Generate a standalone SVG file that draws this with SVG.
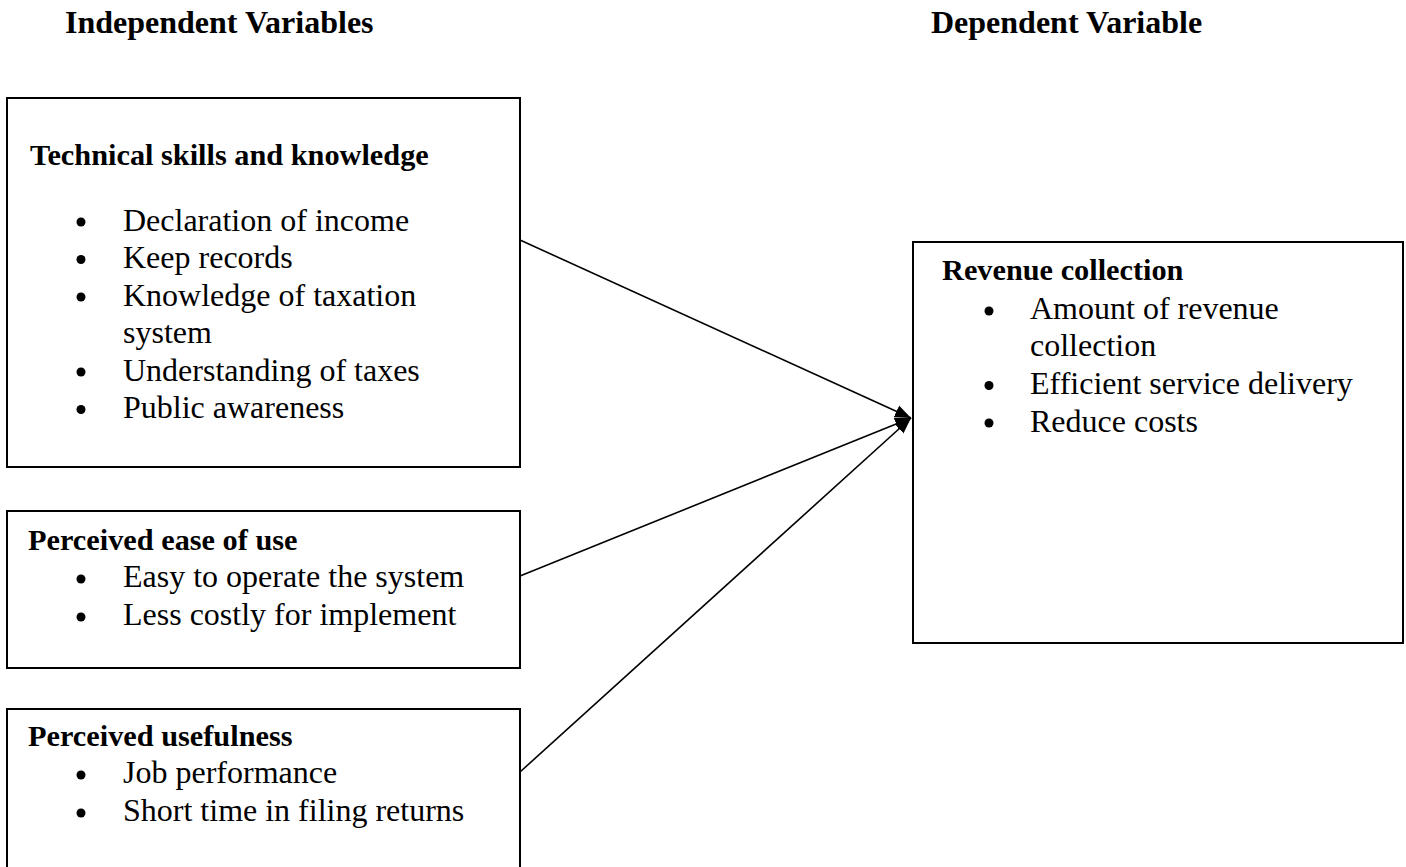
<svg xmlns="http://www.w3.org/2000/svg" width="1406" height="867" viewBox="0 0 1406 867">
<style>
text{font-family:"Liberation Serif","Times New Roman",serif;fill:#000}
.t{font-size:32px;font-weight:bold}
.h{font-size:30.3px;font-weight:bold}
.b{font-size:32px}
.box{fill:#fff;stroke:#000;stroke-width:2}
.c{stroke:#000;stroke-width:1.6;fill:none}
</style>
<defs>
<marker id="ah2" viewBox="0 0 10 10" refX="10" refY="5" markerWidth="16" markerHeight="16" markerUnits="userSpaceOnUse" orient="auto">
<path d="M0,1 L10,5 L0,9 Z" fill="#000"/>
</marker>
</defs>
<rect width="1406" height="867" fill="#fff"/>
<text class="t" x="65" y="33">Independent Variables</text>
<text class="t" x="931" y="33">Dependent Variable</text>
<g id="connectors">
<line class="c" x1="520" y1="240" x2="911" y2="418" marker-end="url(#ah2)"/>
<line class="c" x1="520" y1="576" x2="911" y2="418" marker-end="url(#ah2)"/>
<line class="c" x1="520" y1="772" x2="911" y2="418" marker-end="url(#ah2)"/>
</g>
<g id="technical">
<rect class="box" x="7" y="98" width="513" height="369"/>
<text class="h" x="30" y="165">Technical skills and knowledge</text>
<circle cx="81" cy="222" r="4.5"/><text class="b" x="123" y="230.5">Declaration of income</text>
<circle cx="81" cy="259.5" r="4.5"/><text class="b" x="123" y="268">Keep records</text>
<circle cx="81" cy="297" r="4.5"/><text class="b" x="123" y="305.5">Knowledge of taxation</text>
<text class="b" x="123" y="343">system</text>
<circle cx="81" cy="372" r="4.5"/><text class="b" x="123" y="380.5">Understanding of taxes</text>
<circle cx="81" cy="409.5" r="4.5"/><text class="b" x="123" y="418">Public awareness</text>
</g>
<g id="ease">
<rect class="box" x="7" y="511" width="513" height="157"/>
<text class="h" x="28" y="550">Perceived ease of use</text>
<circle cx="81" cy="579" r="4.5"/><text class="b" x="123" y="587">Easy to operate the system</text>
<circle cx="81" cy="617" r="4.5"/><text class="b" x="123" y="625">Less costly for implement</text>
</g>
<g id="usefulness">
<rect class="box" x="7" y="709" width="513" height="170"/>
<text class="h" x="28" y="746">Perceived usefulness</text>
<circle cx="81" cy="775" r="4.5"/><text class="b" x="123" y="783">Job performance</text>
<circle cx="81" cy="813" r="4.5"/><text class="b" x="123" y="821">Short time in filing returns</text>
</g>
<g id="revenue">
<rect class="box" x="913" y="242" width="490" height="401"/>
<text class="h" x="942" y="280">Revenue collection</text>
<circle cx="989" cy="311" r="4.5"/><text class="b" x="1030" y="319">Amount of revenue</text>
<text class="b" x="1030" y="356">collection</text>
<circle cx="989" cy="385.5" r="4.5"/><text class="b" x="1030" y="394">Efficient service delivery</text>
<circle cx="989" cy="423" r="4.5"/><text class="b" x="1030" y="431.5">Reduce costs</text>
</g>
</svg>
